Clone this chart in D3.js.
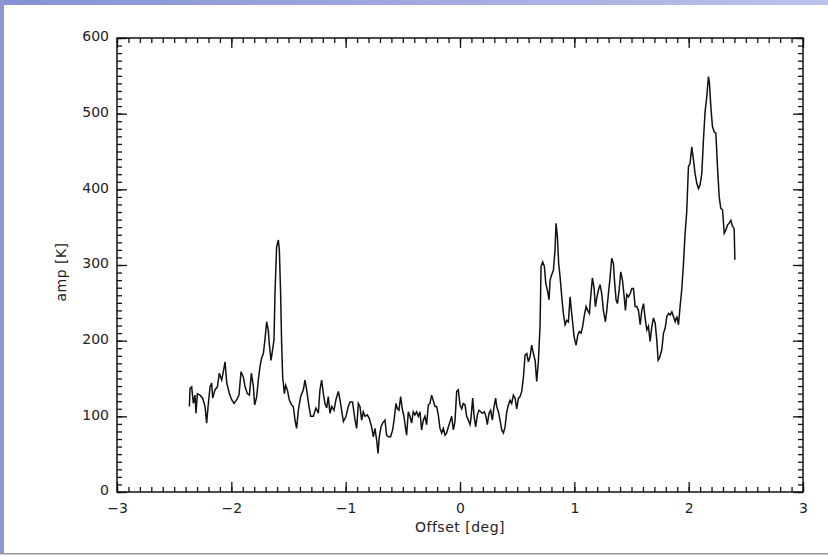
<!DOCTYPE html>
<html>
<head>
<meta charset="utf-8">
<script src="https://cdn.jsdelivr.net/npm/d3@7"></script>
<style>
  body { margin: 0; background: #fff; }
  svg text { font-family: "DejaVu Sans", sans-serif; fill: #222; }
</style>
</head>
<body>
<div id="chart"></div>
<script>
// spectrum: offset [deg] and amplitude [K]
const offsetDeg = [
  -2.367,-2.361,-2.347,-2.332,-2.318,-2.309,-2.297,-2.274,-2.251,-2.230,-2.216,-2.201,-2.186,-2.172,-2.163,-2.143,-2.122,-2.105,-2.084,-2.070,
  -2.055,-2.040,-2.017,-1.997,-1.976,-1.953,-1.933,-1.915,-1.895,-1.880,-1.860,-1.842,-1.825,-1.807,-1.796,-1.778,-1.764,-1.749,-1.735,-1.720,
  -1.706,-1.691,-1.677,-1.668,-1.653,-1.639,-1.627,-1.618,-1.604,-1.589,-1.580,-1.569,-1.560,-1.551,-1.536,-1.525,-1.510,-1.493,-1.472,-1.458,
  -1.443,-1.429,-1.414,-1.394,-1.370,-1.356,-1.341,-1.321,-1.306,-1.283,-1.260,-1.239,-1.225,-1.210,-1.195,-1.181,-1.166,-1.152,-1.137,-1.122,
  -1.102,-1.085,-1.064,-1.050,-1.035,-1.020,-0.997,-0.977,-0.962,-0.940,-0.918,-0.904,-0.889,
  -0.875,-0.860,-0.846,-0.831,-0.811,-0.793,-0.773,-0.758,-0.744,-0.729,-0.717,-0.706,-0.691,-0.677,-0.656,-0.642,-0.627,-0.607,-0.589,-0.575,
  -0.560,-0.548,-0.534,-0.519,-0.505,-0.490,-0.476,-0.467,-0.452,-0.438,-0.423,-0.409,-0.394,-0.380,-0.365,-0.350,-0.336,-0.321,-0.307,-0.292,
  -0.277,-0.263,-0.248,-0.234,-0.219,-0.204,-0.190,-0.175,-0.160,-0.146,-0.131,-0.117,-0.102,-0.087,-0.073,-0.058,-0.044,-0.029,-0.015,0.000,
  0.015,0.029,0.044,0.058,0.073,0.088,0.096,0.111,0.123,0.137,0.152,0.166,0.181,0.195,0.213,0.227,0.239,0.254,0.268,0.283,
  0.298,0.312,0.321,0.336,0.350,0.365,0.380,0.394,0.409,0.423,0.438,0.452,0.467,0.482,0.496,0.511,
  0.525,0.540,0.555,0.569,0.584,0.598,0.613,0.627,0.642,0.657,0.671,0.686,0.700,0.709,0.723,0.738,0.750,0.764,0.779,0.788,
  0.802,0.817,0.831,0.840,0.852,0.863,0.875,0.890,0.904,0.919,0.934,0.948,0.963,0.974,0.986,0.998,1.015,1.030,1.044,1.059,
  1.073,1.088,1.103,1.117,1.132,1.143,1.158,1.173,1.184,1.196,1.211,1.225,1.240,1.254,1.272,1.284,1.298,1.313,1.327,1.342,
  1.351,1.365,1.377,1.392,1.406,1.421,1.436,1.447,1.459,1.473,1.488,1.503,1.517,1.532,1.546,1.561,1.576,1.590,1.605,1.619,
  1.634,1.648,1.663,1.678,1.692,1.707,1.721,1.733,1.745,1.765,1.780,1.794,1.809,1.824,1.838,1.853,1.867,1.882,1.897,1.911,
  1.925,1.939,1.954,1.968,1.983,1.998,2.012,2.027,2.042,2.056,2.071,2.086,2.100,2.115,2.129,2.144,2.158,2.173,2.182,2.194,
  2.208,2.223,2.238,2.252,2.267,2.281,2.296,2.311,2.325,2.340,2.354,2.369,2.384,2.398,2.404
];
const ampK = [
  113,137,139,117,128,104,130,128,124,113,91,117,139,144,124,135,139,157,148,159,
  172,144,130,122,117,122,128,159,152,139,130,128,157,139,115,126,148,166,177,183,
  201,225,214,196,174,188,201,263,324,333,320,263,196,152,130,141,135,122,115,113,
  95,84,108,126,135,148,135,113,100,100,111,104,135,148,130,117,111,126,104,113,
  108,122,133,122,108,93,100,113,119,119,95,84,117,
  113,95,106,100,102,97,86,73,84,69,51,73,86,91,95,75,73,73,82,97,
  117,110,108,126,110,100,84,75,106,100,91,106,102,106,100,106,82,95,100,89,
  115,117,128,121,113,113,102,84,78,84,75,78,86,93,100,82,93,133,135,115,
  110,117,115,100,95,89,97,124,100,86,102,108,106,104,106,100,89,104,108,95,
  113,124,113,106,95,82,78,86,106,115,121,117,128,124,110,124,
  126,133,152,181,183,172,179,194,183,174,146,174,219,298,304,298,276,267,254,280,
  287,293,320,355,337,302,285,258,236,221,227,225,258,240,223,205,194,207,212,210,
  219,234,245,240,236,258,283,269,245,256,267,274,262,240,225,240,262,284,309,302,
  280,254,249,267,291,280,258,240,261,258,262,269,269,245,245,240,221,240,249,230,
  214,219,199,219,230,223,201,174,177,188,210,216,232,236,234,238,232,225,232,221,
  245,267,300,340,370,430,434,456,439,421,408,401,406,421,465,503,522,549,540,509,
  483,476,474,430,390,375,373,342,346,353,355,359,351,348,307
];

const xDomain = [-3, 3];
const yDomain = [0, 600];
const xTickValues = [-3, -2, -1, 0, 1, 2, 3];
const yTickValues = [0, 100, 200, 300, 400, 500, 600];

const width = 828;
const height = 557;
const plotLeft = 117, plotRight = 803, plotTop = 38, plotBottom = 492;

const svg = d3.select("#chart")
    .append("svg")
    .attr("width", width)
    .attr("height", height);

// slide background strips
const grad = svg.append("defs").append("linearGradient")
    .attr("id", "topbar")
    .attr("x1", "0%").attr("x2", "100%");
grad.append("stop").attr("offset", "0%").attr("stop-color", "#8790d4");
grad.append("stop").attr("offset", "100%").attr("stop-color", "#bcc2ea");

svg.append("rect").attr("x", 0).attr("y", 0).attr("width", width).attr("height", height).attr("fill", "#fff");
svg.append("rect").attr("x", 0).attr("y", 0).attr("width", width).attr("height", 5).attr("fill", "url(#topbar)");
svg.append("rect").attr("x", 0).attr("y", 0).attr("width", 4).attr("height", 554).attr("fill", "#8e96d6");
svg.append("rect").attr("x", 0).attr("y", 553).attr("width", width).attr("height", 1.5).attr("fill", "#9a9a9a");

// scales
const x = d3.scaleLinear().domain(xDomain).range([plotLeft, plotRight]);
const y = d3.scaleLinear().domain(yDomain).range([plotBottom, plotTop]);

// minor ticks on all four sides (IDL style, pointing inward)
const minorX = x.ticks(60);
const minorY = y.ticks(60);

function addAxis(axis, transform, labels) {
    const g = svg.append("g")
        .attr("transform", transform)
        .call(axis);
    g.select(".domain").remove();
    g.selectAll("line").attr("stroke", "#111").attr("stroke-width", 1.3);
    if (!labels) g.selectAll("text").remove();
    return g;
}

addAxis(d3.axisBottom(x).tickValues(minorX).tickSize(-5).tickFormat(""), `translate(0,${plotBottom})`, false);
addAxis(d3.axisTop(x).tickValues(minorX).tickSize(-5).tickFormat(""), `translate(0,${plotTop})`, false);
addAxis(d3.axisLeft(y).tickValues(minorY).tickSize(-5).tickFormat(""), `translate(${plotLeft},0)`, false);
addAxis(d3.axisRight(y).tickValues(minorY).tickSize(-5).tickFormat(""), `translate(${plotRight},0)`, false);

const xAxis = addAxis(d3.axisBottom(x).tickValues(xTickValues).tickSize(-10).tickPadding(11).tickFormat(d3.format("d")),
    `translate(0,${plotBottom})`, true);
xAxis.selectAll("text").style("font-size", "14px").attr("fill", "#222");

addAxis(d3.axisTop(x).tickValues(xTickValues).tickSize(-10).tickFormat(""), `translate(0,${plotTop})`, false);

const yAxis = addAxis(d3.axisLeft(y).tickValues(yTickValues).tickSize(-10).tickPadding(8).tickFormat(d3.format("d")),
    `translate(${plotLeft},0)`, true);
yAxis.selectAll("text").style("font-size", "14px").attr("fill", "#222").attr("dy", "0.2em");

addAxis(d3.axisRight(y).tickValues(yTickValues).tickSize(-10).tickFormat(""), `translate(${plotRight},0)`, false);

// frame
svg.append("rect")
    .attr("x", plotLeft).attr("y", plotTop)
    .attr("width", plotRight - plotLeft).attr("height", plotBottom - plotTop)
    .attr("fill", "none")
    .attr("stroke", "#111")
    .attr("stroke-width", 1.5);

// spectrum line
const points = offsetDeg.map((d, i) => [d, ampK[i]]);
const line = d3.line()
    .x(d => x(d[0]))
    .y(d => y(d[1]));

svg.append("path")
    .datum(points)
    .attr("d", line)
    .attr("fill", "none")
    .attr("stroke", "#111")
    .attr("stroke-width", 1.5)
    .attr("stroke-linejoin", "miter");

// axis titles
svg.append("text")
    .attr("x", (plotLeft + plotRight) / 2)
    .attr("y", 532)
    .attr("text-anchor", "middle")
    .style("font-size", "14px")
    .style("letter-spacing", "0.5px")
    .text("Offset [deg]");

svg.append("text")
    .attr("transform", `translate(66,272) rotate(-90)`)
    .attr("text-anchor", "middle")
    .style("font-size", "14px")
    .style("letter-spacing", "0.5px")
    .text("amp [K]");
</script>
</body>
</html>
